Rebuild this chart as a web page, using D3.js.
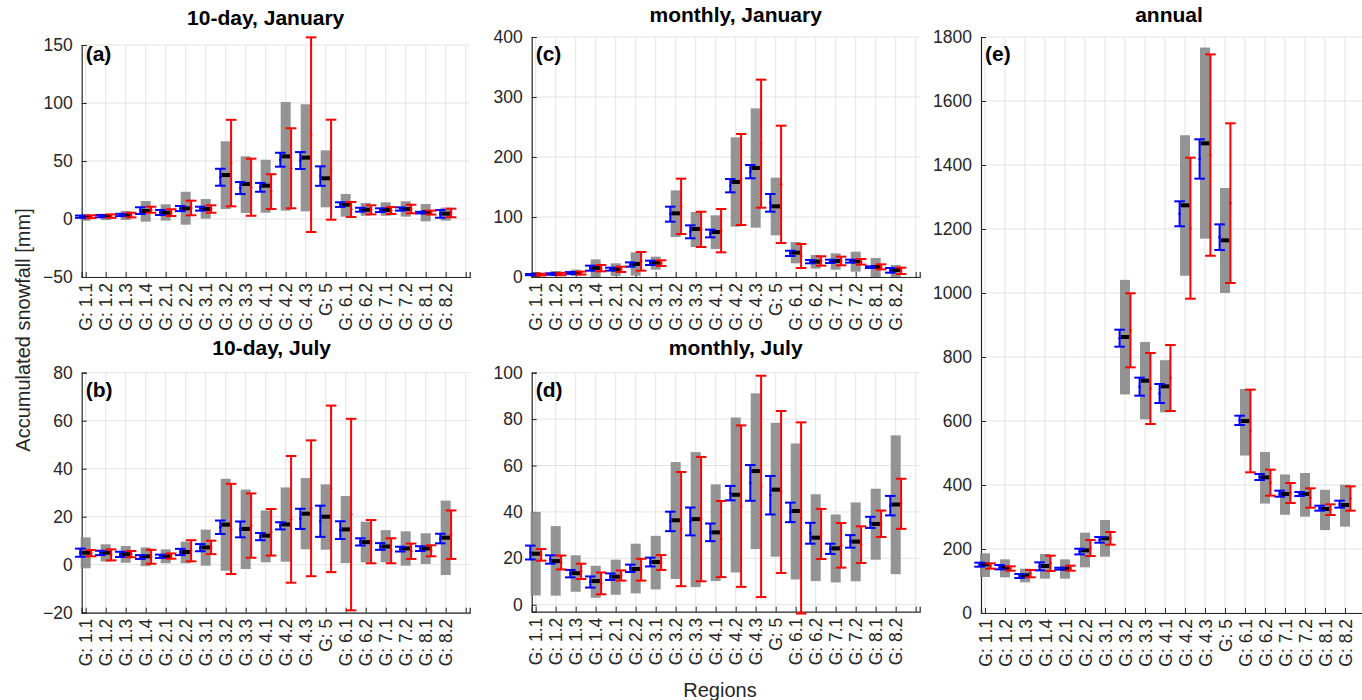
<!DOCTYPE html>
<html><head><meta charset="utf-8">
<script src="https://cdn.jsdelivr.net/npm/d3@7"></script>
<style>
body{margin:0;background:#fff;}
text{font-family:"Liberation Sans",Arial,Helvetica,sans-serif;}
</style></head>
<body>
<svg id="chart" width="1362" height="700"></svg>
<script>
const categories = ["G: 1.1","G: 1.2","G: 1.3","G: 1.4","G: 2.1","G: 2.2","G: 3.1","G: 3.2","G: 3.3","G: 4.1","G: 4.2","G: 4.3","G: 5","G: 6.1","G: 6.2","G: 7.1","G: 7.2","G: 8.1","G: 8.2"];

// Panel (a) 10-day, January
const a_grayLo = [-1.5,-0.9,-0.9,-2.3,-1.4,-4.9,0.3,8.6,5.2,5.4,7.2,6.6,10.1,2.0,2.8,2.8,2.0,-2.0,-1.4];
const a_grayHi = [3.4,4.3,6.9,15.5,12.7,23.5,17.2,67.0,54.0,51.1,100.9,98.9,59.2,21.6,13.8,14.4,15.3,12.9,9.8];
const a_black  = [2.0,2.6,3.4,6.9,5.4,9.2,8.6,37.9,30.2,28.7,54.0,52.9,35.1,12.3,8.0,7.8,8.6,5.8,4.6];
const a_blue   = [2.0,2.5,3.5,7.2,5.6,9.0,8.9,36.0,26.7,27.3,51.1,50.4,37.0,12.4,8.0,7.6,8.6,5.5,4.4];
const a_blueE  = [1.0,1.0,1.0,2.9,2.2,2.2,1.7,7.3,5.2,3.8,6.0,7.3,8.4,2.0,1.7,1.6,1.4,0.7,3.3];
const a_red    = [2.0,2.5,3.4,8.0,5.5,9.5,8.6,48.2,27.4,23.6,43.7,72.7,42.5,8.2,7.9,7.3,8.6,5.5,5.2];
const a_redE   = [1.2,1.5,2.0,2.6,2.9,6.3,3.2,37.3,24.6,15.0,34.5,83.9,43.1,6.5,3.9,3.0,3.7,1.7,3.7];

// Panel (b) 10-day, July
const b_grayLo = [-1.5,1.3,0.8,-0.6,0.6,0.6,-0.4,-2.5,-1.8,1.0,1.25,6.4,6.25,0.7,1.0,1.0,-0.4,0.3,-4.3];
const b_grayHi = [11.4,8.5,7.8,7.2,6.4,9.6,14.6,35.8,31.3,22.6,32.2,36.1,33.5,28.6,17.9,14.4,13.9,13.1,26.7];
const b_black  = [5.0,5.0,4.4,3.5,3.5,5.3,7.2,16.7,14.9,12.1,16.8,21.25,20.0,14.7,9.4,7.6,6.8,6.8,11.25];
const b_blue   = [5.0,4.9,4.3,3.2,3.5,5.3,7.1,15.6,14.7,11.7,16.2,19.1,18.1,14.4,9.5,7.6,6.5,6.7,10.9];
const b_blueE  = [1.7,0.9,1.1,0.8,0.7,1.3,1.5,2.8,3.3,1.5,1.5,4.2,6.5,3.7,1.5,1.4,1.0,1.0,2.0];
const b_red    = [4.8,4.1,4.4,3.3,3.6,5.8,7.2,14.9,16.3,13.5,18.9,23.5,31.6,20.9,9.6,5.8,5.6,5.8,12.5];
const b_redE   = [1.3,2.3,1.3,2.9,1.1,4.4,2.8,18.8,13.4,9.7,26.4,28.3,34.7,39.9,9.0,5.2,3.2,2.3,10.1];

// Panel (c) monthly, January
const c_grayLo = [1.0,1.5,1.7,0.0,1.7,2.2,12.2,66.7,50.0,46.7,83.9,82.2,69.4,22.8,13.9,12.2,8.9,0.0,0.0];
const c_grayHi = [8.0,10.0,12.2,29.4,22.8,41.1,33.9,144.4,108.3,102.8,232.8,281.1,165.6,58.3,36.7,39.4,42.2,31.7,20.0];
const c_black  = [4.0,5.0,6.7,15.0,12.8,21.7,23.9,106.1,80.0,75.0,158.3,181.7,117.8,40.6,25.6,26.7,26.1,16.7,11.7];
const c_blue   = [4.0,5.0,6.7,14.7,13.1,20.8,23.6,104.7,75.3,72.5,152.2,175.6,123.6,39.4,25.6,26.1,26.4,16.4,11.1];
const c_blueE  = [1.0,1.2,1.5,4.2,2.5,3.6,3.6,12.5,10.8,6.4,11.1,11.1,14.7,4.4,2.8,2.8,2.5,1.4,3.9];
const c_red    = [4.0,5.0,6.5,14.7,12.8,26.1,23.1,117.8,79.4,77.2,162.5,222.2,154.4,35.0,26.7,26.7,25.3,16.9,10.3];
const c_redE   = [1.5,2.0,2.5,5.3,4.4,15.5,4.7,46.1,29.4,36.1,75.8,106.7,97.8,20.0,7.8,7.2,4.7,4.2,5.3];

// Panel (d) monthly, July
const d_grayLo = [4.0,3.9,5.6,3.0,4.3,4.9,6.6,11.1,7.6,10.2,13.9,24.0,20.7,10.9,10.2,9.6,10.1,19.4,13.2];
const d_grayHi = [40.0,33.9,21.3,16.8,19.4,26.3,29.7,61.5,65.8,51.9,80.7,91.1,78.4,69.5,47.6,38.9,44.1,50.0,73.0];
const d_black  = [22.0,18.8,13.6,10.2,12.1,15.4,18.4,36.4,36.9,31.2,47.4,57.6,49.6,40.4,28.9,24.3,27.2,34.8,43.2];
const d_blue   = [22.5,19.5,13.4,9.8,12.1,15.7,18.4,35.9,35.9,31.2,48.1,52.5,47.2,39.8,30.8,24.1,27.3,35.5,42.7];
const d_blueE  = [3.0,1.8,1.6,2.4,1.4,1.6,1.9,4.2,6.0,3.8,3.1,7.7,8.3,4.2,4.5,2.2,2.7,2.4,4.2];
const d_red    = [21.5,18.2,14.4,9.2,12.6,15.1,18.2,32.6,36.9,28.3,42.5,51.0,48.6,37.4,30.5,25.6,25.9,34.9,43.5];
const d_redE   = [2.5,3.0,3.3,4.7,2.2,4.7,3.2,24.6,26.8,16.4,34.8,47.7,34.9,41.2,10.8,9.6,7.9,5.7,10.8];

// Panel (e) annual
const e_grayLo = [112.5,111.5,95.8,107.3,107.3,142.7,176,683,605,627,1054,1170,1000,492,342,307,301,259,270];
const e_grayHi = [186.5,167.7,138.5,184.4,167.7,251,290.6,1041,847,790,1493,1767,1328,700,503,433,437.5,385,401];
const e_black  = [152,141.7,117.7,146.9,138.5,195.8,233.3,862.5,726,708.3,1274,1467.7,1164.6,600,424,372,372,325,337.5];
const e_blue   = [151,143.2,115.6,145.8,138.5,192,228.6,858.8,707.3,686,1247.5,1418.8,1174.5,602,425,372.9,371.9,327.6,340.1];
const e_blueE  = [6.3,6.8,6.2,12.5,3,8.9,8.9,26.6,28.1,29.7,39,61.5,40,14.6,9.4,9.4,6.3,7.8,10.9];
const e_red    = [146.9,139,123,155.2,140,203,233.3,883.4,701.6,734.4,1202.5,1431,1280.8,568.8,407.3,375,359.4,322.9,357.8];
const e_redE   = [8.3,6.8,11.5,24,7.8,25,19.8,115.7,111,103.1,220.3,314.6,249.5,129.2,40.6,31.3,30.2,16.7,38];

const yTicksA = [-50,0,50,100,150];
const yTicksB = [-20,0,20,40,60,80];
const yTicksC = [0,100,200,300,400];
const yTicksD = [0,20,40,60,80,100];
const yTicksE = [0,200,400,600,800,1000,1200,1400,1600,1800];

const titles = ["10-day, January","10-day, July","monthly, January","monthly, July","annual"];
const letters = ["(a)","(b)","(c)","(d)","(e)"];

const svg = d3.select("#chart");
const AX = "#262626", GRID = "#e3e3e3";

function panel(o){
  const g = svg.append("g");
  const x = d3.scaleLinear().domain([0.8,20.2]).range([o.x0,o.x0+388]);
  const y = d3.scaleLinear().domain(o.ydom).range([o.yb,o.yt]);
  const idx = d3.range(1,21);
  // grid
  g.append("g").selectAll("line").data(idx).join("line")
    .attr("x1",d=>x(d)).attr("x2",d=>x(d)).attr("y1",o.yt).attr("y2",o.yb)
    .attr("stroke",GRID).attr("stroke-width",1);
  g.append("g").selectAll("line").data(o.yticks).join("line")
    .attr("x1",o.x0).attr("x2",o.x0+388).attr("y1",d=>y(d)).attr("y2",d=>y(d))
    .attr("stroke",GRID).attr("stroke-width",1);
  // axes
  const ya = d3.axisLeft(y).tickValues(o.yticks).tickSize(-5).tickPadding(9).tickFormat(d3.format("d"));
  const yg = g.append("g").attr("transform",`translate(${o.x0},0)`).call(ya);
  const xa = d3.axisBottom(x).tickValues(idx).tickSize(-5).tickFormat(d=>categories[d-1]||"");
  const xg = g.append("g").attr("transform",`translate(0,${o.yb})`).call(xa);
  [yg,xg].forEach(a=>{a.select(".domain").attr("stroke",AX).attr("stroke-width",1.2);
    a.selectAll(".tick line").attr("stroke",AX);
    a.selectAll("text").attr("fill",AX).style("font-size","17.5px");});
  xg.selectAll(".tick text").attr("transform","rotate(-90)").attr("text-anchor","end")
    .attr("x",-6).attr("y",0).attr("dy","0.35em");
  // data
  const data = categories.map((c,i)=>({i:i+1,lo:o.gl[i],hi:o.gh[i],bk:o.bk[i],b:o.b[i],be:o.be[i],r:o.r[i],re:o.re[i]}));
  const bw = x(1.25)-x(1);
  g.append("g").selectAll("rect").data(data).join("rect")
    .attr("x",d=>x(d.i)-bw).attr("width",2*bw)
    .attr("y",d=>y(d.hi)).attr("height",d=>y(d.lo)-y(d.hi))
    .attr("fill","#888888").attr("opacity",0.9);
  g.append("g").selectAll("rect").data(data).join("rect")
    .attr("x",d=>x(d.i)-4.3).attr("width",8.6)
    .attr("y",d=>y(d.bk)-2).attr("height",4).attr("fill","#000");
  function eb(key,ekey,off,col){
    const gg = g.append("g").attr("stroke",col).attr("stroke-width",2).attr("fill",col);
    const cw = 5.3;
    data.forEach(d=>{
      const cx = x(d.i+off), t = y(d[key]+d[ekey]), b = y(d[key]-d[ekey]);
      gg.append("line").attr("x1",cx).attr("x2",cx).attr("y1",t).attr("y2",b);
      gg.append("line").attr("x1",cx-cw).attr("x2",cx+cw).attr("y1",t).attr("y2",t);
      gg.append("line").attr("x1",cx-cw).attr("x2",cx+cw).attr("y1",b).attr("y2",b);
      gg.append("circle").attr("cx",cx).attr("cy",y(d[key])).attr("r",1.3).attr("stroke","none");
    });
  }
  eb("b","be",-0.27,"#0000ff");
  eb("r","re",0.27,"#ff0000");
  // title & letter
  svg.append("text").attr("x",o.x0+o.tc).attr("y",o.ty).attr("text-anchor","middle")
    .style("font-size","21px").style("font-weight","bold").attr("fill","#000").text(o.title);
  svg.append("text").attr("x",o.x0+4).attr("y",o.ly).style("font-size","21px")
    .style("font-weight","bold").attr("fill","#000").text(o.letter);
}

panel({x0:81.7,yt:45,yb:277,ydom:[-50,150],yticks:yTicksA,title:titles[0],letter:letters[0],ty:25,ly:61,tc:184,
  gl:a_grayLo,gh:a_grayHi,bk:a_black,b:a_blue,be:a_blueE,r:a_red,re:a_redE});
panel({x0:81.7,yt:372.7,yb:612.7,ydom:[-20,80],yticks:yTicksB,title:titles[1],letter:letters[1],ty:355,ly:397,tc:190,
  gl:b_grayLo,gh:b_grayHi,bk:b_black,b:b_blue,be:b_blueE,r:b_red,re:b_redE});
panel({x0:531.7,yt:37,yb:277,ydom:[0,400],yticks:yTicksC,title:titles[2],letter:letters[2],ty:22,ly:61,tc:204,
  gl:c_grayLo,gh:c_grayHi,bk:c_black,b:c_blue,be:c_blueE,r:c_red,re:c_redE});
panel({x0:531.7,yt:372.7,yb:611.7,ydom:[-3,100],yticks:yTicksD,title:titles[3],letter:letters[3],ty:355,ly:397,tc:204,
  gl:d_grayLo,gh:d_grayHi,bk:d_black,b:d_blue,be:d_blueE,r:d_red,re:d_redE});
panel({x0:981,yt:37,yb:613,ydom:[0,1800],yticks:yTicksE,title:titles[4],letter:letters[4],ty:22,ly:61,tc:188,
  gl:e_grayLo,gh:e_grayHi,bk:e_black,b:e_blue,be:e_blueE,r:e_red,re:e_redE});

svg.append("text").attr("x",720).attr("y",697).attr("text-anchor","middle")
  .style("font-size","20px").attr("fill",AX).text("Regions");
svg.append("text").attr("transform","translate(30,330) rotate(-90)").attr("text-anchor","middle")
  .style("font-size","20px").attr("fill",AX).text("Accumulated snowfall [mm]");
</script>
</body></html>
